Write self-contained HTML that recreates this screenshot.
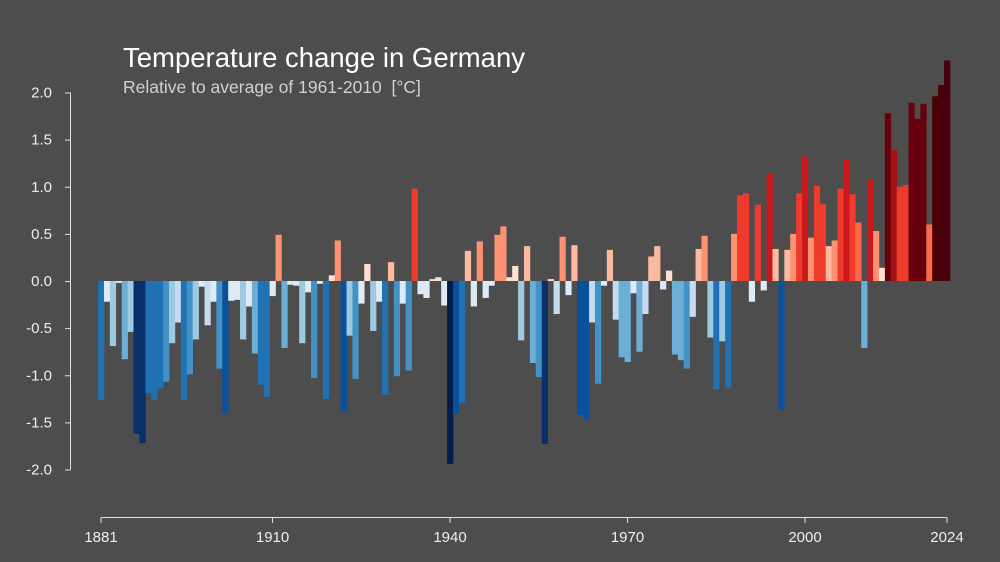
<!DOCTYPE html>
<html><head><meta charset="utf-8"><style>
body{margin:0;background:#4d4d4d;}
svg{display:block;font-family:"Liberation Sans",sans-serif;}
</style></head><body>
<svg id="chart" width="1000" height="562">
<rect width="1000" height="562" fill="#4d4d4d"/>
<text x="123" y="67" font-size="27.5" fill="#ffffff">Temperature change in Germany</text>
<text x="123" y="93" font-size="17.5" fill="#d0d0d0" style="white-space:pre" xml:space="preserve">Relative to average of 1961-2010  [°C]</text>
<g id="bars"></g>
<g id="yaxis"></g>
<g id="xaxis"></g>
</svg>
<script>
const startYear = 1881;
const values = [
-1.26,-0.22,-0.69,-0.02,-0.83,-0.54,-1.62,-1.72,-1.19,-1.26,
-1.14,-1.07,-0.66,-0.44,-1.26,-0.99,-0.62,-0.06,-0.47,-0.22,
-0.93,-1.40,-0.21,-0.20,-0.62,-0.27,-0.77,-1.10,-1.23,-0.16,
0.49,-0.71,-0.04,-0.05,-0.66,-0.12,-1.03,-0.03,-1.25,0.06,
0.43,-1.38,-0.58,-1.04,-0.24,0.18,-0.53,-0.22,-1.21,0.20,
-1.01,-0.24,-0.95,0.98,-0.14,-0.18,0.02,0.04,-0.26,-1.94,
-1.41,-1.29,0.32,-0.27,0.42,-0.18,-0.05,0.49,0.58,0.04,
0.16,-0.63,0.37,-0.87,-1.02,-1.73,0.02,-0.35,0.47,-0.15,
0.38,-1.42,-1.47,-0.44,-1.09,-0.05,0.33,-0.41,-0.81,-0.86,
-0.13,-0.75,-0.35,0.26,0.37,-0.09,0.11,-0.78,-0.84,-0.93,
-0.38,0.34,0.48,-0.60,-1.15,-0.64,-1.13,0.50,0.91,0.93,
-0.22,0.81,-0.10,1.14,0.34,-1.37,0.33,0.50,0.93,1.32,
0.46,1.01,0.82,0.37,0.43,0.98,1.29,0.92,0.62,-0.71,
1.08,0.53,0.14,1.78,1.39,1.00,1.02,1.89,1.72,1.88,
0.60,1.96,2.08,2.34];
const yTicks = [2.0,1.5,1.0,0.5,0.0,-0.5,-1.0,-1.5,-2.0];
const xTicks = [1881,1910,1940,1970,2000,2024];

const NS="http://www.w3.org/2000/svg";
const step=5.916;
function xC(year){return 101+(year-startYear)*step;}
function yS(v){return 281-v*94.25;}
function color(v){
  if(v<0){
    const a=-v;
    if(a<0.3) return "#deebf7";
    if(a<0.5) return "#c6dbef";
    if(a<0.7) return "#9ecae1";
    if(a<0.9) return "#6baed6";
    if(a<1.1) return "#4292c6";
    if(a<1.35) return "#2171b5";
    if(a<1.55) return "#08519c";
    if(a<1.8) return "#08306b";
    return "#041c4a";
  } else {
    if(v<0.2) return "#fee0d2";
    if(v<0.4) return "#fcbba1";
    if(v<0.6) return "#fc9272";
    if(v<0.8) return "#fb6a4a";
    if(v<1.05) return "#ef3b2c";
    if(v<1.35) return "#cb181d";
    if(v<1.65) return "#a50f15";
    if(v<1.95) return "#67000d";
    return "#4a0008";
  }
}
const bars=document.getElementById('bars');
values.forEach((v,i)=>{
  const r=document.createElementNS(NS,'rect');
  const x=xC(startYear+i)-step/2;
  r.setAttribute('x',x);
  r.setAttribute('width',step+0.3);
  r.setAttribute('y',Math.min(yS(v),yS(0)));
  r.setAttribute('height',Math.abs(yS(v)-yS(0)));
  r.setAttribute('fill',color(v));
  
  
  bars.appendChild(r);
});
const ya=document.getElementById('yaxis');
function line(g,x1,y1,x2,y2,name){
  const l=document.createElementNS(NS,'line');
  l.setAttribute('x1',x1);l.setAttribute('y1',y1);l.setAttribute('x2',x2);l.setAttribute('y2',y2);
  l.setAttribute('stroke','#e0e0e0');l.setAttribute('stroke-width','1');
  
  
  g.appendChild(l);
}
function text(g,x,y,s,anchor,name){
  const t=document.createElementNS(NS,'text');
  t.setAttribute('x',x);t.setAttribute('y',y);t.setAttribute('text-anchor',anchor);
  t.setAttribute('font-size','15');t.setAttribute('fill','#eeeeee');
  t.textContent=s;
  
  
  g.appendChild(t);
}
line(ya,70.5,yS(2),70.5,yS(-2),'y-axis-line');
yTicks.forEach(v=>{
  line(ya,65,yS(v)+0.5,70.5,yS(v)+0.5,'y-tick');
  text(ya,52,yS(v)+5,v.toFixed(1),'end','y-tick-label');
});
const xa=document.getElementById('xaxis');
line(xa,xC(1881),517.5,xC(2024),517.5,'x-axis-line');
xTicks.forEach(y=>{
  line(xa,xC(y),517.5,xC(y),523,'x-tick');
  text(xa,xC(y),542,String(y),'middle','x-tick-label');
});
</script>
</body></html>
